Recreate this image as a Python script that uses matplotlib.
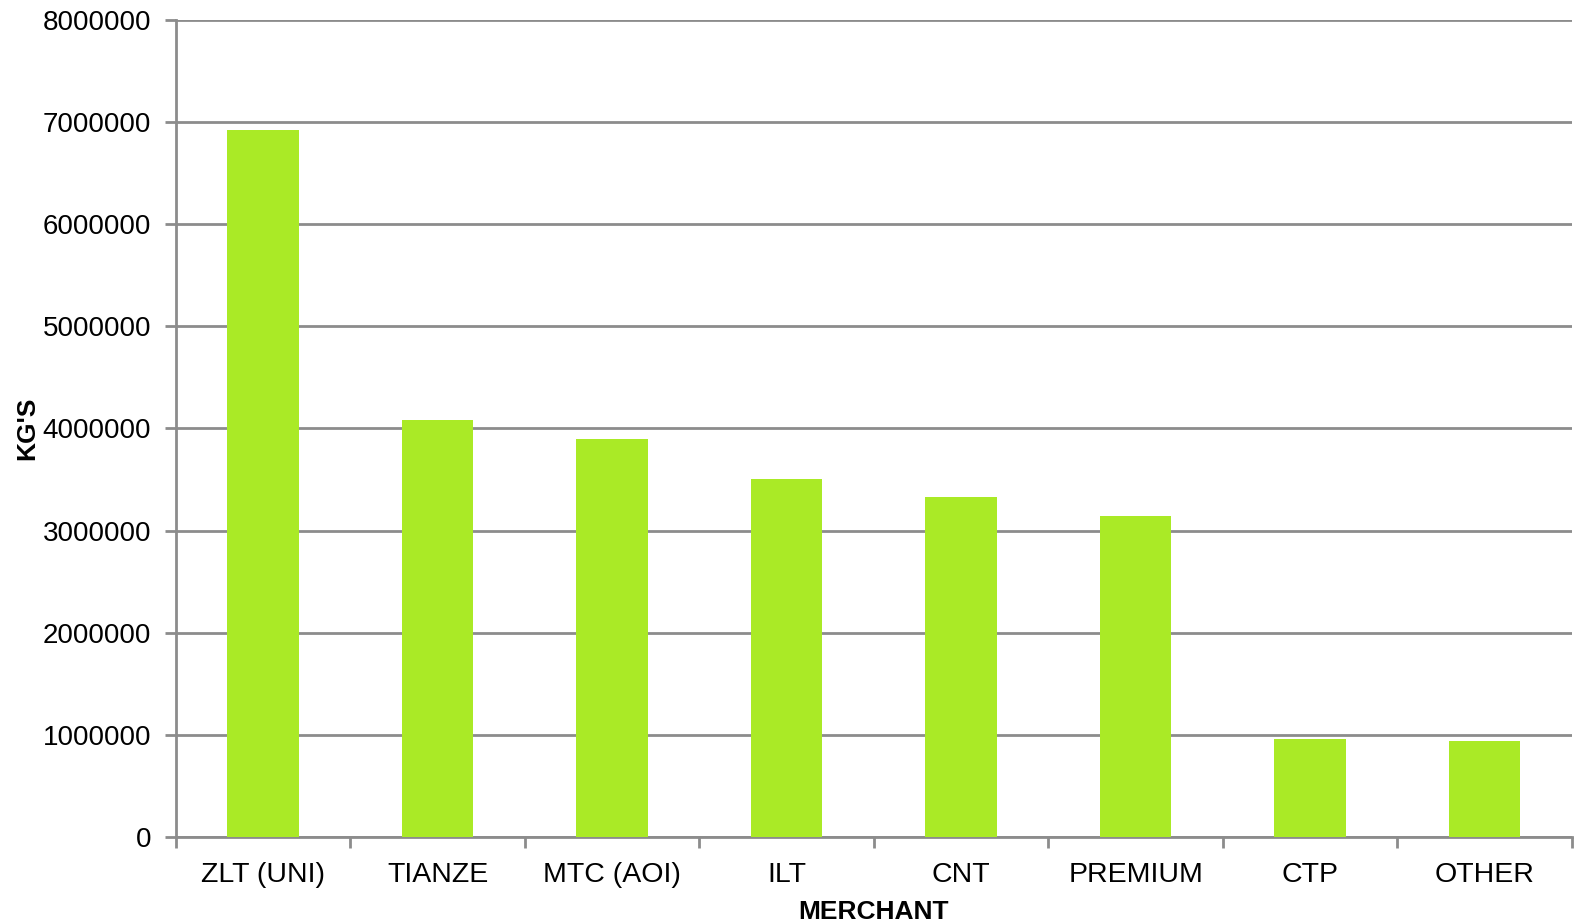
import matplotlib
matplotlib.use("Agg")
import matplotlib.pyplot as plt
import numpy as np

# merchant volumes
merchants = ['ZLT (UNI)', 'TIANZE', 'MTC (AOI)', 'ILT', 'CNT', 'PREMIUM', 'CTP', 'OTHER']
kgs = [6920000, 4085000, 3900000, 3510000, 3330000, 3145000, 960000, 935000]

plt.rcParams['font.family'] = ['Liberation Sans', 'DejaVu Sans']

grey = '#8c8c8c'
fig = plt.figure(figsize=(15.74, 9.24), dpi=100)
ax = fig.add_axes([0.1118, 0.0942, 0.8869, 0.8842])

x = np.arange(len(merchants))
ax.bar(x, kgs, width=0.41, color='#aaea26', zorder=3)

ax.set_ylim(0, 8000000)
ax.set_yticks(np.arange(0, 8000001, 1000000))
ax.set_yticklabels([str(v) for v in range(0, 8000001, 1000000)])
ax.yaxis.grid(True, color=grey, linewidth=2, zorder=0)

ax.set_xlim(-0.5, len(merchants) - 0.5)
ax.set_xticks(np.arange(-0.5, len(merchants), 1.0))
ax.set_xticklabels([])
ax.set_xticks(x, minor=True)
ax.set_xticklabels(merchants, minor=True)
ax.tick_params(axis='x', which='minor', length=0, pad=18, labelsize=20.5)
ax.tick_params(axis='x', which='major', length=8, width=2, color=grey, direction='out')
ax.tick_params(axis='y', length=8, width=2, color=grey, labelsize=20, pad=10)

for s in ['top', 'right']:
    ax.spines[s].set_visible(False)
for s in ['left', 'bottom']:
    ax.spines[s].set_color(grey)
    ax.spines[s].set_linewidth(2)

ax.set_xlabel('MERCHANT', fontsize=19, fontweight='bold', labelpad=9)
ax.set_ylabel("KG'S", fontsize=19, fontweight='bold', labelpad=2)

fig.savefig('out.png', dpi=100)
